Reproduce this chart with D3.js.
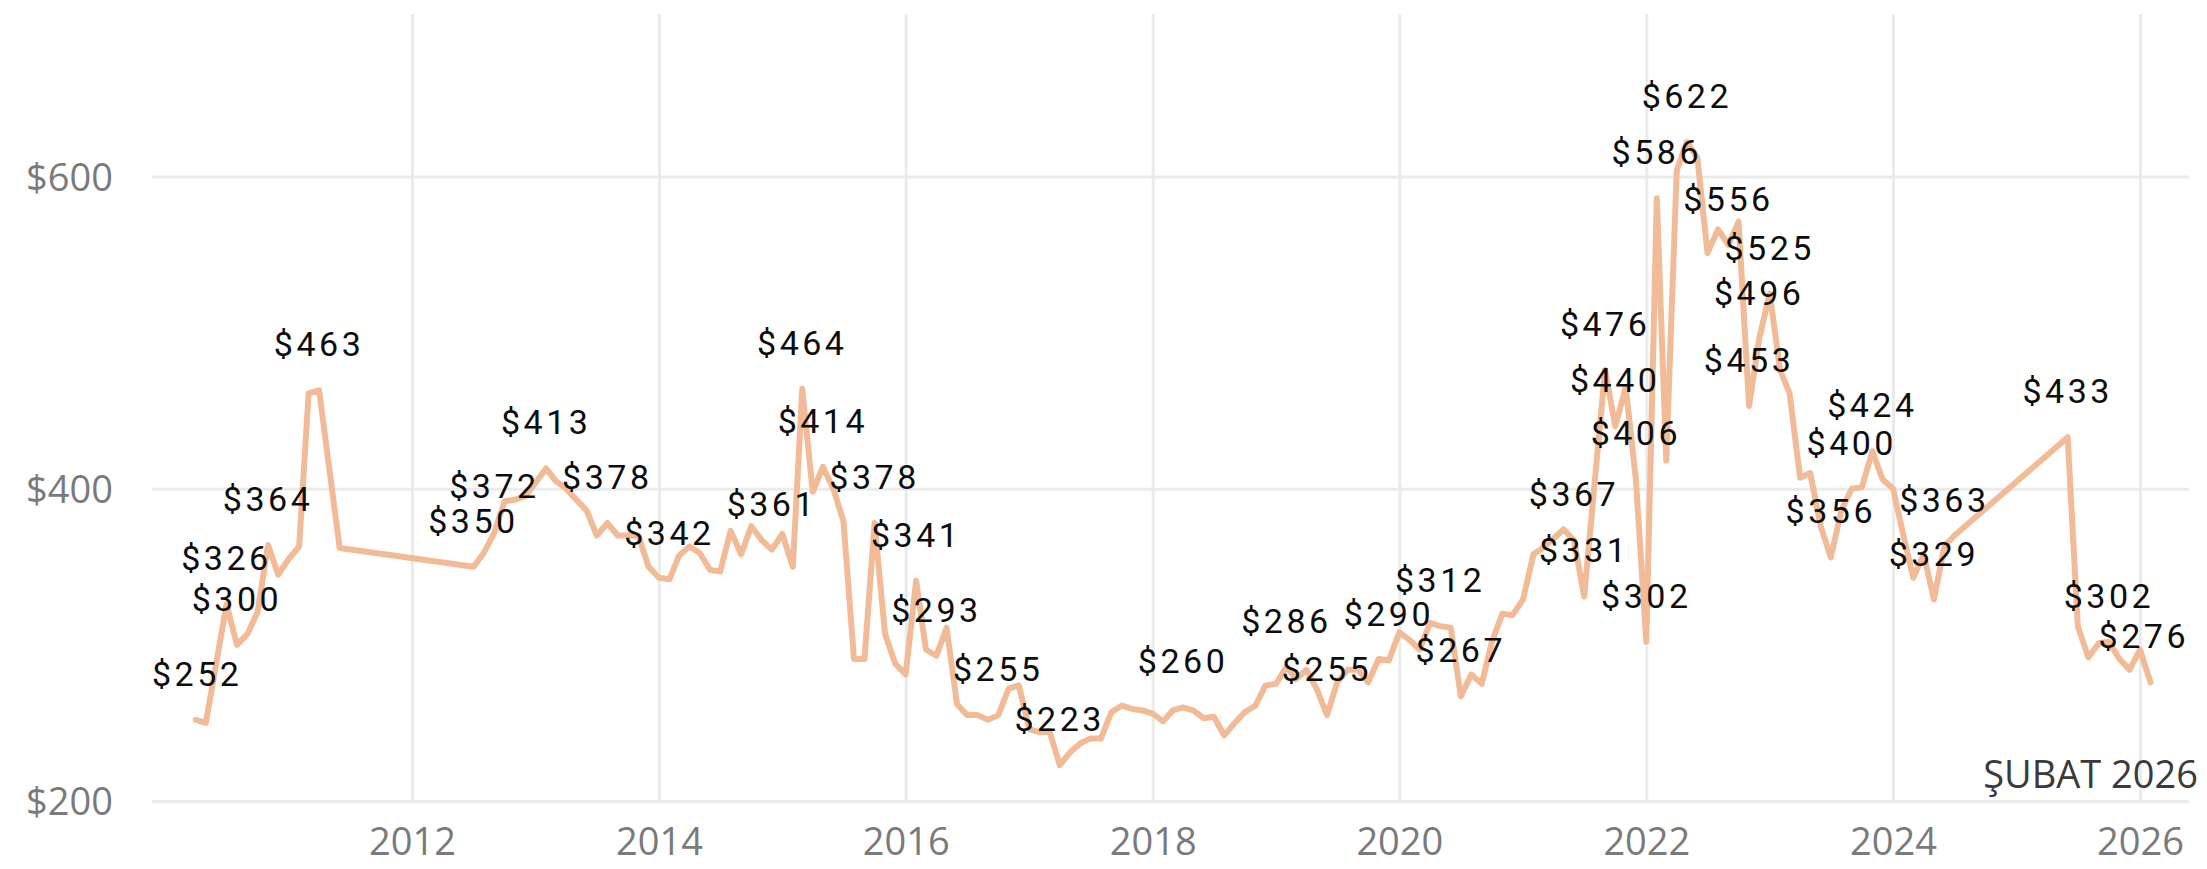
<!DOCTYPE html>
<html>
<head>
<meta charset="utf-8">
<script src="https://cdn.jsdelivr.net/npm/d3@7"></script>
<style>
  html, body { margin: 0; padding: 0; background: #ffffff; }
  svg { display: block; }
</style>
</head>
<body>
<svg id="chart" width="2207" height="869"></svg>
<script>
// Monthly average price series (USD)
const months = [
  "2010-04","2010-05","2010-07","2010-08","2010-09","2010-10","2010-11","2010-12",
  "2011-01","2011-02","2011-03","2011-04","2011-06",
  "2012-07","2012-08","2012-09","2012-10","2012-11","2012-12",
  "2013-01","2013-02","2013-03","2013-04","2013-05","2013-06","2013-07","2013-08","2013-09","2013-10","2013-11","2013-12",
  "2014-01","2014-02","2014-03","2014-04","2014-05","2014-06","2014-07","2014-08","2014-09","2014-10","2014-11","2014-12",
  "2015-01","2015-02","2015-03","2015-04","2015-05","2015-06","2015-07","2015-08","2015-09","2015-10","2015-11","2015-12",
  "2016-01","2016-02","2016-03","2016-04","2016-05","2016-06","2016-07","2016-08","2016-09","2016-10","2016-11","2016-12",
  "2017-01","2017-02","2017-03","2017-04","2017-05","2017-06","2017-07","2017-08","2017-09","2017-10","2017-11","2017-12",
  "2018-01","2018-02","2018-03","2018-04","2018-05","2018-06","2018-07","2018-08","2018-09","2018-10","2018-11","2018-12",
  "2019-01","2019-02","2019-03","2019-04","2019-05","2019-06","2019-07","2019-08","2019-09","2019-10","2019-11","2019-12",
  "2020-01","2020-02","2020-03","2020-04","2020-05","2020-06","2020-07","2020-08","2020-09","2020-10","2020-11","2020-12",
  "2021-01","2021-02","2021-03","2021-04","2021-05","2021-06","2021-07","2021-08","2021-09","2021-10","2021-11","2021-12",
  "2022-01","2022-02","2022-03","2022-04","2022-05","2022-06","2022-07","2022-08","2022-09","2022-10","2022-11","2022-12",
  "2023-01","2023-02","2023-03","2023-04","2023-05","2023-06","2023-07","2023-08","2023-09","2023-10","2023-11","2023-12",
  "2024-01","2024-02","2024-03","2024-04","2024-05","2024-06","2024-07",
  "2025-06","2025-07","2025-08","2025-09","2025-10","2025-11","2025-12",
  "2026-01","2026-02"
];

const prices = [
  252, 250, 326, 300, 307, 321, 364, 345,
  355, 363, 461, 463, 362,
  350, 359, 372, 392, 393, 395,
  404, 413, 405, 400, 393, 386, 370, 378, 370, 370, 370, 350,
  343, 342, 357, 363, 359, 348, 347, 373, 358, 376, 367, 361,
  371, 350, 464, 398, 414, 400, 379, 291, 291, 378, 307, 288,
  281, 341, 297, 293, 311, 262, 255, 255, 252, 255, 272, 274,
  246, 244, 245, 223, 231, 237, 240, 240, 257, 261, 259, 258,
  256, 251, 258, 260, 258, 253, 254, 242, 250, 257, 261, 274,
  275, 286, 278, 284, 272, 255, 276, 284, 284, 276, 291, 290,
  308, 303, 297, 314, 312, 311, 267, 281, 275, 302, 320, 319,
  329, 358, 362, 368, 374, 367, 331, 404, 476, 440, 465, 406,
  302, 586, 418, 604, 622, 612, 551, 566, 556, 571, 453, 496,
  525, 476, 461, 407, 410, 376, 356, 386, 400, 401, 424, 406,
  400, 370, 343, 358, 329, 363, 370,
  433, 312, 292, 301, 302, 291, 284,
  297, 276
];

// Months that carry a value label
const labeledMonths = [
  "2010-04","2010-07","2010-08","2010-11","2011-04",
  "2012-07","2012-09","2013-02","2013-08","2014-02","2014-12",
  "2015-03","2015-05","2015-10","2016-02","2016-04","2016-10",
  "2017-04","2018-04","2019-02","2019-06","2019-12",
  "2020-05","2020-07","2021-06","2021-07","2021-09","2021-10","2021-12",
  "2022-01","2022-02","2022-05","2022-09","2022-11","2022-12","2023-01",
  "2023-07","2023-09","2023-11","2024-05","2024-06",
  "2025-06","2025-10","2026-02"
];

const yTicks = [200, 400, 600];
const xTickYears = [2012, 2014, 2016, 2018, 2020, 2022, 2024, 2026];
const periodLabel = "ŞUBAT 2026";

// Layout
const W = 2207, H = 869;
const plot = { left: 152, right: 2189, top: 14, bottom: 801 };

const parseMonth = d3.utcParse("%Y-%m");
const fmtMonth = d3.utcFormat("%Y-%m");
const series = months.map((m, i) => ({ date: parseMonth(m), value: prices[i] }));

const x = d3.scaleUtc()
  .domain([new Date(Date.UTC(2012, 0, 1)), new Date(Date.UTC(2026, 0, 1))])
  .range([412, 2140]);

const y = d3.scaleLinear()
  .domain([200, 704])
  .range([plot.bottom, plot.top]);

const svg = d3.select("#chart");

svg.append("rect").attr("width", W).attr("height", H).attr("fill", "#ffffff");

const gridColor = "#ebebeb";
const tickFont = "'Segoe UI', 'Open Sans', 'Noto Sans', sans-serif";

// Y axis with horizontal gridlines
const yAxis = svg.append("g")
  .attr("transform", `translate(${plot.left},0)`)
  .call(d3.axisLeft(y)
    .tickValues(yTicks)
    .tickFormat(d => "$" + d)
    .tickSize(-(plot.right - plot.left))
    .tickPadding(39));
yAxis.select(".domain").remove();
yAxis.selectAll(".tick line").attr("stroke", gridColor).attr("stroke-width", 3);
yAxis.selectAll(".tick text")
  .attr("fill", "#7a7a7a")
  .attr("font-family", tickFont)
  .attr("font-size", 38)
  .attr("dy", "0.36em");

// X axis with vertical gridlines
const xAxis = svg.append("g")
  .attr("transform", `translate(0,${plot.bottom})`)
  .call(d3.axisBottom(x)
    .tickValues(xTickYears.map(yr => new Date(Date.UTC(yr, 0, 1))))
    .tickFormat(d3.utcFormat("%Y"))
    .tickSize(-(plot.bottom - plot.top))
    .tickPadding(27));
xAxis.select(".domain").remove();
xAxis.selectAll(".tick line").attr("stroke", gridColor).attr("stroke-width", 3);
xAxis.selectAll(".tick text")
  .attr("fill", "#7a7a7a")
  .attr("font-family", tickFont)
  .attr("font-size", 38);

// Price line
const line = d3.line()
  .x(d => x(d.date))
  .y(d => y(d.value));

svg.append("path")
  .datum(series)
  .attr("d", line)
  .attr("fill", "none")
  .attr("stroke", "#f2bb98")
  .attr("stroke-width", 6)
  .attr("stroke-linejoin", "round")
  .attr("stroke-linecap", "round");

// Value labels, kept inside the plot area
const labelData = series.filter(d => labeledMonths.includes(fmtMonth(d.date)));
const labels = svg.append("g")
  .selectAll("text")
  .data(labelData)
  .join("text")
  .attr("x", d => x(d.date))
  .attr("y", d => y(d.value) - 34)
  .attr("text-anchor", "middle")
  .attr("font-family", "Roboto, 'DejaVu Sans', sans-serif")
  .attr("font-weight", 400)
  .attr("font-size", 34)
  .attr("letter-spacing", 3.5)
  .attr("fill", "#0d0d0d")
  .text(d => "$" + d.value);

labels.each(function (d) {
  const w = this.getComputedTextLength();
  let cx = x(d.date);
  cx = Math.max(plot.left + w / 2, Math.min(plot.right - w / 2, cx));
  d3.select(this).attr("x", cx);
});

// Period caption
svg.append("text")
  .attr("x", 2198)
  .attr("y", 788)
  .attr("text-anchor", "end")
  .attr("font-family", tickFont)
  .attr("font-size", 38)
  .attr("fill", "#3a3a3a")
  .text(periodLabel);
</script>
</body>
</html>
